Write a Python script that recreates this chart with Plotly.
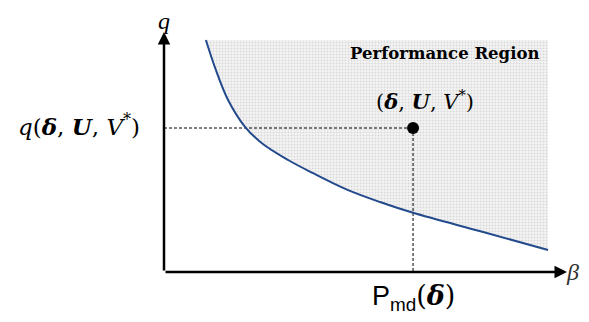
import plotly.graph_objects as go

# Boundary curve of the performance region (q versus beta)
curve_beta = [1.04, 1.27, 1.59, 2.01, 2.43, 3.08, 3.70, 4.54, 5.36, 6.18, 7.92, 9.53]
curve_q = [5.80, 5.10, 4.30, 3.63, 3.22, 2.80, 2.47, 2.06, 1.75, 1.48, 1.00, 0.55]

# Region upper limit
region_top = 5.80

# Operating point (delta, U, V*)
point_beta = 6.18
point_q = 3.60

x_max = 10.0
y_max = 6.0

fig = go.Figure()

# Shaded performance region
fig.add_trace(go.Scatter(
    x=curve_beta + [curve_beta[-1], curve_beta[0], curve_beta[0]],
    y=curve_q + [region_top, region_top, curve_q[0]],
    mode="lines", line=dict(width=0), fill="toself",
    fillcolor="#eeeeee",
    fillpattern=dict(shape=".", fgcolor="#bdbdbd", bgcolor="#f4f4f4", size=3, solidity=0.35),
    hoverinfo="skip", showlegend=False,
))

# Dashed guide lines
fig.add_trace(go.Scatter(
    x=[0, point_beta], y=[point_q, point_q], mode="lines",
    line=dict(color="black", width=1, dash="3px,2px"), showlegend=False, hoverinfo="skip",
))
fig.add_trace(go.Scatter(
    x=[point_beta, point_beta], y=[point_q, 0], mode="lines",
    line=dict(color="black", width=1, dash="3px,2px"), showlegend=False, hoverinfo="skip",
))

# Boundary curve
fig.add_trace(go.Scatter(
    x=curve_beta, y=curve_q, mode="lines",
    line=dict(color="#234a8c", width=2, shape="spline", smoothing=1.0), showlegend=False,
))

# Operating point
fig.add_trace(go.Scatter(
    x=[point_beta], y=[point_q], mode="markers",
    marker=dict(color="black", size=12), showlegend=False,
))

serif = "Liberation Serif, DejaVu Serif, serif"
mserif = "DejaVu Serif, Liberation Serif, serif"

annotations = [
    # axes arrows
    dict(x=0, y=y_max, ax=0, ay=0, xref="x", yref="y", axref="x", ayref="y",
         showarrow=True, arrowhead=2, arrowsize=1, arrowwidth=2.5, arrowcolor="black", text=""),
    dict(x=x_max, y=0, ax=0, ay=0, xref="x", yref="y", axref="x", ayref="y",
         showarrow=True, arrowhead=2, arrowsize=1, arrowwidth=2.5, arrowcolor="black", text=""),
    # axis labels
    dict(x=0, y=1.046, xref="paper", yref="paper", xanchor="center", yanchor="middle",
         text="<i>q</i>", showarrow=False,
         font=dict(family=serif, size=24, color="black")),
    dict(x=1.0347, y=0.0, xref="paper", yref="paper", xanchor="right", yanchor="middle",
         text="<i>β</i>", showarrow=False,
         font=dict(family=serif, size=24, color="#333333")),
    # y value label
    dict(x=-0.055, y=0.612, xref="paper", yref="paper", xanchor="right", yanchor="middle",
         text="<i>q</i>(<b><i>δ</i></b>, <b><i>U</i></b>, <i>V</i><sup>*</sup>)",
         showarrow=False, font=dict(family=mserif, size=23, color="black")),
    # x value label
    dict(x=0.618, y=-0.108, xref="paper", yref="paper", xanchor="center", yanchor="middle",
         text="<span style='font-family:Liberation Sans, DejaVu Sans, sans-serif'>P<sub>md</sub></span>(<b><i>δ</i></b>)",
         showarrow=False, font=dict(family=mserif, size=27, color="black")),
    # region title
    dict(x=6.97, y=5.47, xref="x", yref="y", xanchor="center", yanchor="middle",
         text="<b>Performance Region</b>",
         showarrow=False, font=dict(family=mserif, size=16.5, color="black")),
    # point label
    dict(x=6.48, y=4.3, xref="x", yref="y", xanchor="center", yanchor="middle",
         text="(<b><i>δ</i></b>, <b><i>U</i></b>, <i>V</i><sup>*</sup>)",
         showarrow=False, font=dict(family=mserif, size=21, color="black")),
]

fig.update_layout(
    width=573, height=306,
    margin=dict(l=156, r=14, t=24, b=42),
    paper_bgcolor="white", plot_bgcolor="white",
    xaxis=dict(range=[0, x_max], visible=False, fixedrange=True),
    yaxis=dict(range=[0, y_max], visible=False, fixedrange=True),
    annotations=annotations,
    showlegend=False,
)

fig.write_html("out.html")
